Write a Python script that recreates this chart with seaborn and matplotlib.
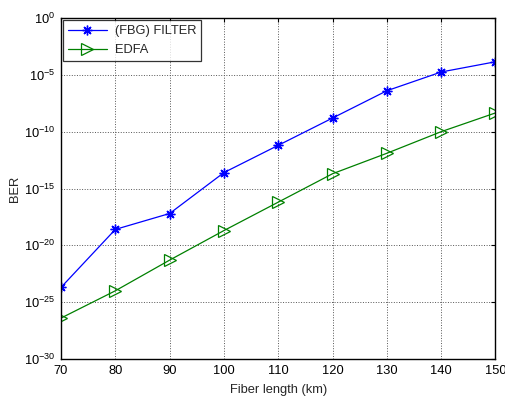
import numpy as np
import pandas as pd
import matplotlib
matplotlib.use("Agg")
import matplotlib.pyplot as plt
import matplotlib.ticker as mticker
import seaborn as sns

fiber_length = [70, 80, 90, 100, 110, 120, 130, 140, 150]
ber_fbg_exp = [-23.7, -18.6, -17.2, -13.6, -11.2, -8.8, -6.4, -4.75, -3.85]
ber_edfa_exp = [-26.4, -24.0, -21.3, -18.7, -16.2, -13.7, -11.9, -10.0, -8.35]
series_names = ["(FBG) FILTER", "EDFA"]
yticks_exp = [0, -5, -10, -15, -20, -25, -30]
xticks = [70, 80, 90, 100, 110, 120, 130, 140, 150]

sns.set_style("white")
plt.rcParams["font.family"] = ["Liberation Sans", "DejaVu Sans"]
plt.rcParams["mathtext.fontset"] = "custom"
plt.rcParams["mathtext.rm"] = "Liberation Sans"
plt.rcParams["mathtext.it"] = "Liberation Sans"
plt.rcParams["mathtext.default"] = "regular"

FS = 9.3

fig = plt.figure(figsize=(5.06, 3.96), dpi=100)
ax = fig.add_axes([61 / 506, 1 - 359 / 396, (495.5 - 61) / 506, (359 - 18) / 396])

sns.lineplot(x=fiber_length, y=[10.0 ** e for e in ber_fbg_exp], ax=ax,
             color="#0000ff", linewidth=0.9, marker=(8, 2, 0), markersize=7,
             markeredgecolor="#0000ff", markeredgewidth=1.0, label=series_names[0])
sns.lineplot(x=fiber_length, y=[10.0 ** e for e in ber_edfa_exp], ax=ax,
             color="#008000", linewidth=0.9, marker=">", markersize=8,
             markerfacecolor="none", markeredgecolor="#008000", markeredgewidth=0.9,
             label=series_names[1])

ax.set_yscale("log")
ax.set_xlim(70, 150)
ax.set_ylim(1e-30, 1e0)
ax.set_xticks(xticks)
ax.set_xticklabels([str(v) for v in xticks])
ax.yaxis.set_major_locator(mticker.FixedLocator([10.0 ** e for e in yticks_exp]))
ax.yaxis.set_minor_locator(mticker.NullLocator())
ax.set_yticklabels([r"$10^{%d}$" % e for e in yticks_exp])

ax.grid(True, which="major", color="#555555", linestyle=":", linewidth=0.7)
ax.tick_params(direction="in", length=3, width=0.8, top=True, right=True,
               labelsize=FS, colors="black", pad=4)
for s in ax.spines.values():
    s.set_color("black")
    s.set_linewidth(1.0)

ax.set_xlabel("Fiber length (km)", fontsize=FS, labelpad=5)
ax.set_ylabel("BER", fontsize=FS, labelpad=2)

leg = ax.legend(loc="upper left", fontsize=FS, frameon=True, fancybox=False,
                borderaxespad=0.15, handlelength=3.0, borderpad=0.4,
                labelspacing=0.55, handletextpad=0.6)
leg.get_frame().set_edgecolor("black")
leg.get_frame().set_linewidth(0.9)

fig.savefig("out.png", dpi=100)
